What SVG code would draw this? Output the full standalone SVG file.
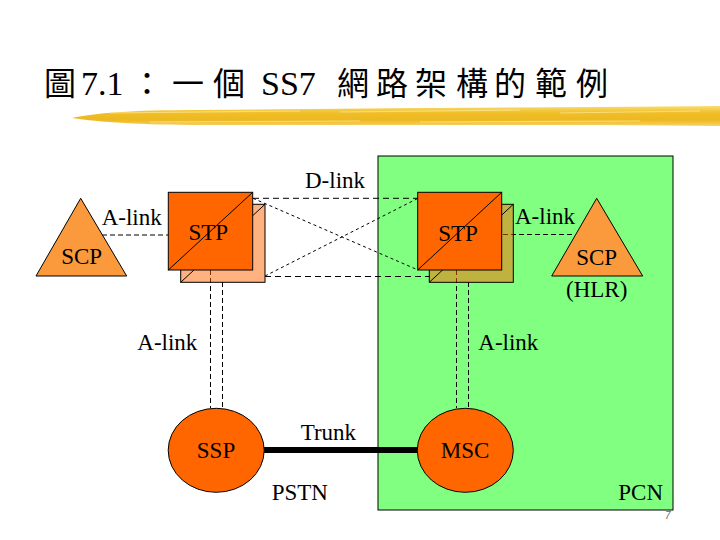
<svg xmlns="http://www.w3.org/2000/svg" width="720" height="540" viewBox="0 0 720 540">
<defs>
<linearGradient id="brush" x1="0" y1="0" x2="0" y2="1">
<stop offset="0" stop-color="#F9DC70"/>
<stop offset="0.35" stop-color="#F0BE28"/>
<stop offset="0.7" stop-color="#EDB820"/>
<stop offset="1" stop-color="#F7D468"/>
</linearGradient>
<style>
.lbl{font-family:"Liberation Serif","Times New Roman",serif;font-size:23px;fill:#000}
.mid{text-anchor:middle}
.edge{stroke:#000;stroke-width:1}
.stp{fill:#FF6600}
.stpb{fill:#FF6600;fill-opacity:0.5}
.scp{fill:#FA9A3C}
.node{fill:#FF6600}
.alink{fill:none;stroke:#000;stroke-width:1;stroke-dasharray:5 3}
.dlink{fill:none;stroke:#000;stroke-width:1;stroke-dasharray:6 4}
.ddiag{fill:none;stroke:#000;stroke-width:1;stroke-dasharray:3 3}
.title{font-family:"Liberation Serif","Times New Roman",serif;font-size:34px;fill:#000}
.cjk{font-family:"Noto Sans CJK TC","Noto Sans CJK SC",sans-serif;font-size:32px}
</style>
</defs>
<rect width="720" height="540" fill="#FFFFFF"/>

<g id="title">
<text class="title" y="95"><tspan class="cjk" x="44">圖</tspan><tspan x="81">7.1</tspan><tspan class="cjk" x="131">：</tspan><tspan class="cjk" x="172">一</tspan><tspan class="cjk" x="213">個</tspan><tspan x="261">SS7</tspan><tspan class="cjk" x="337">網</tspan><tspan class="cjk" x="376">路</tspan><tspan class="cjk" x="415">架</tspan><tspan class="cjk" x="456">構</tspan><tspan class="cjk" x="494">的</tspan><tspan class="cjk" x="535">範</tspan><tspan class="cjk" x="576">例</tspan></text>
<path d="M72,118 C95,113 130,110 200,110 L420,108 L600,107 L720,106 L720,126 L600,125 L420,125 L200,125 C140,125 100,122 72,118 Z" fill="url(#brush)"/>
<path d="M110,113 L300,111 M340,112 L520,110 M560,113 L700,111 M150,122 L360,121 M420,122 L640,121" stroke="#FBE28C" stroke-width="1.2" fill="none" opacity="0.8"/>
</g>

<g id="pcn-area">
<rect x="378" y="156" width="295" height="354" fill="#80FF80" stroke="#000" stroke-width="1"/>
</g>

<g id="connectors">
<line class="alink" x1="102" y1="235" x2="168" y2="235"/>
<line class="alink" x1="503" y1="234.5" x2="575" y2="234.5"/>
<line class="dlink" x1="253" y1="198.3" x2="418" y2="198.3"/>
<line class="dlink" x1="265" y1="276.5" x2="430" y2="276.5"/>
<line class="ddiag" x1="253" y1="198.3" x2="418" y2="270"/>
<line class="ddiag" x1="265" y1="276" x2="418" y2="198.3"/>
<line class="alink" x1="210.5" y1="270" x2="210.5" y2="408"/>
<line class="alink" x1="222.5" y1="282" x2="222.5" y2="408"/>
<line class="alink" x1="456.5" y1="270" x2="456.5" y2="408"/>
<line class="alink" x1="468.5" y1="282" x2="468.5" y2="408"/>
<line x1="264" y1="450" x2="418" y2="450" stroke="#000" stroke-width="6"/>
</g>

<g id="scp-left">
<polygon class="scp edge" points="80.7,198.3 36,276 126.7,276"/>
<text class="lbl mid" x="81.7" y="264">SCP</text>
</g>

<g id="stp-left">
<rect class="stpb edge" x="180.7" y="204.3" width="84.3" height="78"/>
<line class="edge" x1="180.7" y1="282.3" x2="265" y2="204.3"/>
<rect class="stp edge" x="168.3" y="192.3" width="84.4" height="77.7"/>
<line class="edge" x1="168.3" y1="270" x2="252.7" y2="192.3"/>
<text class="lbl mid" x="208.3" y="240">STP</text>
</g>

<g id="stp-right">
<rect class="stpb edge" x="429.3" y="204.3" width="84" height="78"/>
<line class="edge" x1="429.3" y1="282.3" x2="513.3" y2="204.3"/>
<rect class="stp edge" x="417.7" y="192.3" width="84" height="77.7"/>
<line class="edge" x1="417.7" y1="270" x2="501.7" y2="192.3"/>
<text class="lbl mid" x="458" y="240.5">STP</text>
</g>

<g id="scp-right">
<polygon class="scp edge" points="596.7,198.3 551.7,276 642.7,276"/>
<text class="lbl mid" x="596.7" y="265">SCP</text>
<text class="lbl mid" x="596.7" y="297">(HLR)</text>
</g>

<g id="ssp">
<ellipse class="node edge" cx="216.2" cy="450.3" rx="48" ry="42"/>
<text class="lbl mid" x="216" y="458">SSP</text>
</g>

<g id="msc">
<ellipse class="node edge" cx="465.3" cy="450.3" rx="48" ry="42"/>
<text class="lbl mid" x="465" y="458">MSC</text>
</g>

<g id="labels">
<text class="lbl" x="305" y="188.3">D-link</text>
<text class="lbl" x="101.7" y="225">A-link</text>
<text class="lbl" x="515" y="224">A-link</text>
<text class="lbl" x="137.3" y="350">A-link</text>
<text class="lbl" x="478.3" y="350">A-link</text>
<text class="lbl" x="300.7" y="440">Trunk</text>
<text class="lbl" x="271.7" y="500">PSTN</text>
<text class="lbl" x="618.3" y="500">PCN</text>
<text x="665" y="519" font-family="Liberation Sans, Arial, sans-serif" font-size="10" font-style="italic" fill="#666">7</text>
</g>
</svg>
